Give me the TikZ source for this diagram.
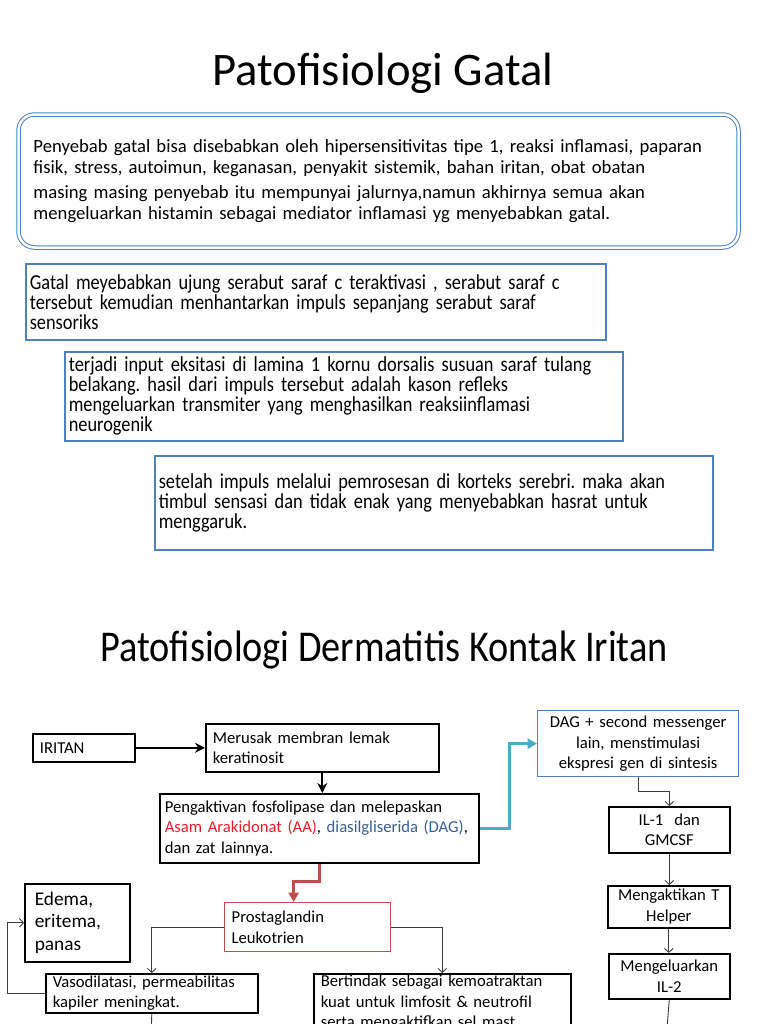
\documentclass[tikz,border=0pt]{standalone}
\usepackage{fontspec}
\setmainfont{Carlito}
\newfontfamily\narrowfont[FakeStretch=0.86]{Carlito}
\newfontfamily\titlenarrow[FakeStretch=0.87]{Carlito}
\usetikzlibrary{arrows.meta}
\newdimen\px \px=0.75pt
\definecolor{boxblue}{RGB}{79,129,189}
\definecolor{flowteal}{RGB}{75,172,198}
\definecolor{flowred}{RGB}{192,80,77}
\definecolor{aatext}{RGB}{232,30,40}
\definecolor{dagtext}{RGB}{55,96,146}
\definecolor{conngray}{RGB}{60,60,60}
\frenchspacing

\tikzset{
  infobox/.style={draw=boxblue, line width=1.6\px, anchor=north west, align=left,
    inner xsep=4\px, inner ysep=0pt, font=\narrowfont\fontsize{16}{15}\selectfont},
  flowbox/.style={draw=black, line width=1.6\px, anchor=north west, align=left,
    inner xsep=7\px, inner ysep=0pt, font=\fontsize{12.5}{15.4}\selectfont},
  smallbox/.style={flowbox, align=center, inner xsep=4\px},
  heading/.style={font=\fontsize{35}{40}\selectfont},
  thinconn/.style={draw=conngray, line width=0.9\px, -{Straight Barb[length=3pt,width=6.5pt]}},
  boldconn/.style={draw=black, line width=2.2\px, -{Stealth[length=7.5pt,width=7.5pt]}},
}

\begin{document}
\begin{tikzpicture}[x=1\px, y=-1\px]
\useasboundingbox (0,0) rectangle (768,1024);

% upper part: itching
\node[heading] (titlegatal) at (383,73) {Patofisiologi Gatal};
\node[infobox, draw=boxblue, double=white, double distance=2.5\px, line width=1\px,
  rounded corners=16\px, inner xsep=15\px, text width=690\px, minimum height=133\px,
  font=\fontsize{14}{15.75}\selectfont] (penyebab) at (18,114)
  {Penyebab gatal bisa disebabkan oleh hipersensitivitas tipe 1, reaksi inflamasi, paparan\\
   fisik, stress, autoimun, keganasan, penyakit sistemik, bahan iritan, obat obatan\\[2.5pt]
   masing masing penyebab itu mempunyai jalurnya,namun akhirnya semua akan\\
   mengeluarkan histamin sebagai mediator inflamasi yg menyebabkan gatal.};
\node[infobox, text width=572\px, minimum height=76\px] (serabut) at (25,263)
  {Gatal meyebabkan ujung serabut saraf c teraktivasi , serabut saraf c\\
   tersebut kemudian menhantarkan impuls sepanjang serabut saraf\\
   sensoriks};
\node[infobox, text width=550\px, minimum height=89\px] (lamina) at (64,351)
  {terjadi input eksitasi di lamina 1 kornu dorsalis susuan saraf tulang\\
   belakang. hasil dari impuls tersebut adalah kason refleks\\
   mengeluarkan transmiter yang menghasilkan reaksiinflamasi\\
   neurogenik};
\node[infobox, text width=550\px, minimum height=94\px] (korteks) at (154,455)
  {setelah impuls melalui pemrosesan di korteks serebri. maka akan\\
   timbul sensasi dan tidak enak yang menyebabkan hasrat untuk\\
   menggaruk.};

% lower part: irritant contact dermatitis
\node[heading, font=\titlenarrow\fontsize{33}{40}\selectfont] (titledki) at (384,650)
  {Patofisiologi Dermatitis Kontak Iritan};
\node[flowbox, text width=88\px, minimum height=28\px] (iritan) at (32,733) {IRITAN};
\node[flowbox, text width=219\px, minimum height=48\px] (merusak) at (205,723)
  {Merusak membran lemak\\keratinosit};
\node[flowbox, inner xsep=5\px, text width=309\px, minimum height=69\px] (fosfo) at (159,793)
  {Pengaktivan fosfolipase dan melepaskan\\
   \textcolor{aatext}{Asam Arakidonat (AA)}, \textcolor{dagtext}{diasilgliserida (DAG)},\\
   dan zat lainnya.};
\node[smallbox, draw=boxblue, line width=1.3\px, text width=193\px, minimum height=66\px] (dag) at (537,710)
  {DAG + second messenger\\lain, menstimulasi\\ekspresi gen di sintesis};
\node[smallbox, text width=113\px, minimum height=46\px] (ilsatu) at (608,806) {IL-1~~dan\\GMCSF};
\node[smallbox, text width=114\px, minimum height=42\px] (thelper) at (607,885) {Mengaktikan T\\Helper};
\node[smallbox, text width=113\px, minimum height=45\px] (ildua) at (608,953) {Mengeluarkan\\IL-2};
\node[flowbox, draw=flowred, line width=1.3\px, text width=152\px, minimum height=49\px] (prosta) at (224,902)
  {Prostaglandin\\Leukotrien};
\node[flowbox, text width=85\px, inner xsep=10\px, minimum height=78\px,
  font=\fontsize{14.5}{16.8}\selectfont] (edema) at (24,883) {Edema,\\eritema,\\panas};
\node[flowbox, text width=198\px, minimum height=39\px] (vaso) at (45,973)
  {Vasodilatasi, permeabilitas\\kapiler meningkat.};
\node[flowbox, text width=243\px, inner ysep=1pt] (kemo) at (313,973)
  {Bertindak sebagai kemoatraktan\\kuat untuk limfosit \& neutrofil\\serta mengaktifkan sel mast};
\coordinate (ilduaout) at (666,1040);
\coordinate (vasoout) at (151,1040);

% connectors
\draw[boldconn] (iritan.east) -- (iritan.east -| merusak.west);
\draw[boldconn] (merusak.south) -- (merusak.south |- fosfo.north);
\draw[draw=flowteal, line width=3\px, -{Triangle[length=7pt,width=7.5pt]}]
  (fosfo.east) -- ++(30,0) |- (dag.west);
\draw[draw=flowred, line width=2.4\px, -{Triangle[length=7pt,width=7.5pt]}]
  (fosfo.south) -- ++(0,18) -| ([xshift=-14\px]prosta.north);
\draw[thinconn] (dag.south) -- ++(0,14) -| (ilsatu.north);
\draw[thinconn] (ilsatu.south) -- (ilsatu.south |- thelper.north);
\draw[thinconn] (thelper.south) -- (thelper.south |- ildua.north);
\draw[draw=conngray, line width=0.9\px] (ildua.south) -- (ilduaout);
\draw[thinconn] (prosta.west) -| (vaso.north);
\draw[thinconn] (prosta.east) -| (kemo.north);
\draw[thinconn] (vaso.west) -- ++(-38,0) |- (edema.west);
\draw[draw=conngray, line width=0.9\px] (vaso.south) -- (vasoout);
\end{tikzpicture}
\end{document}
